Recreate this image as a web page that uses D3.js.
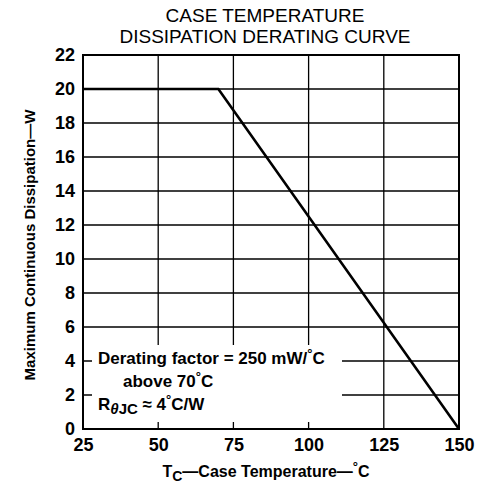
<!DOCTYPE html>
<html><head><meta charset="utf-8">
<script src="https://cdn.jsdelivr.net/npm/d3@7"></script>
<style>body{margin:0;background:#fff}svg{display:block}</style>
</head><body>
<script>
const xTicks = [25, 50, 75, 100, 125, 150];
const yTicks = [0, 2, 4, 6, 8, 10, 12, 14, 16, 18, 20, 22];
const curveTemp = [25, 70, 150];
const curvePower = [20, 20, 0];
const titleLines = ["CASE TEMPERATURE", "DISSIPATION DERATING CURVE"];

const W = 486, H = 489;
const svg = d3.select("body").append("svg").attr("width", W).attr("height", H);
const x = d3.scaleLinear().domain([25, 150]).range([83, 459]);
const y = d3.scaleLinear().domain([0, 22]).range([429, 55]);
const font = "'Liberation Sans', Arial, Helvetica, sans-serif";

// title
svg.append("g").selectAll("text").data(titleLines).join("text")
  .attr("x", 265).attr("y", (d, i) => 22 + i * 21)
  .attr("text-anchor", "middle").attr("font-family", font).attr("font-size", 19)
  .text(d => d);

// grid
const g = svg.append("g");
g.selectAll(".vg").data(xTicks.slice(1, -1)).join("line")
  .attr("x1", d => x(d)).attr("x2", d => x(d)).attr("y1", y(22)).attr("y2", y(0))
  .attr("stroke", "#000").attr("stroke-width", 1.3);
g.selectAll(".hg").data(yTicks.slice(1, -1)).join("line")
  .attr("x1", x(25)).attr("x2", x(150)).attr("y1", d => y(d)).attr("y2", d => y(d))
  .attr("stroke", "#000").attr("stroke-width", 1.3);

// white box behind annotation
g.append("rect").attr("x", x(25) + 9).attr("y", 345).attr("width", 250).attr("height", 77)
  .attr("fill", "#fff");

// border
g.append("rect").attr("x", x(25)).attr("y", y(22)).attr("width", x(150) - x(25)).attr("height", y(0) - y(22))
  .attr("fill", "none").attr("stroke", "#000").attr("stroke-width", 2);

// curve
const line = d3.line().x(d => x(d[0])).y(d => y(d[1]));
g.append("path").datum(curveTemp.map((t, i) => [t, curvePower[i]]))
  .attr("d", line).attr("fill", "none").attr("stroke", "#000").attr("stroke-width", 2.6)
  .attr("stroke-linejoin", "miter");

// axes labels
const xa = svg.append("g").attr("transform", `translate(0,${y(0)})`)
  .call(d3.axisBottom(x).tickValues(xTicks).tickSize(0).tickPadding(9));
xa.select(".domain").remove();
xa.selectAll("text").attr("font-family", font).attr("font-size", 18).attr("font-weight", "bold").attr("fill", "#000");

const ya = svg.append("g").attr("transform", `translate(${x(25)},0)`)
  .call(d3.axisLeft(y).tickValues(yTicks).tickSize(0).tickPadding(8));
ya.select(".domain").remove();
ya.selectAll("text").attr("font-family", font).attr("font-size", 18).attr("font-weight", "bold").attr("fill", "#000");

// axis titles
const xt = svg.append("text").attr("x", 266).attr("y", 477).attr("text-anchor", "middle")
  .attr("font-family", font).attr("font-size", 16).attr("font-weight", "bold");
xt.append("tspan").text("T");
xt.append("tspan").attr("font-size", 14).attr("dy", 4).text("C");
xt.append("tspan").attr("dy", -4).text("\u2014Case Temperature\u2014");
xt.append("tspan").attr("font-size", 13).attr("dy", -6).text("\u00b0");
xt.append("tspan").attr("dy", 6).text("C");

svg.append("text").attr("transform", "translate(35,245) rotate(-90)").attr("text-anchor", "middle")
  .attr("font-family", font).attr("font-size", 15).attr("font-weight", "bold")
  .text("Maximum Continuous Dissipation\u2014W");

// annotation
const ann = svg.append("g").attr("font-family", font).attr("font-size", 17).attr("font-weight", "bold");
const a1 = ann.append("text").attr("x", 98).attr("y", 364);
a1.append("tspan").text("Derating factor = 250 mW/");
a1.append("tspan").attr("font-size", 13).attr("dy", -6).text("\u00b0");
a1.append("tspan").attr("dy", 6).text("C");
const a2 = ann.append("text").attr("x", 123).attr("y", 387);
a2.append("tspan").text("above 70");
a2.append("tspan").attr("font-size", 13).attr("dy", -6).text("\u00b0");
a2.append("tspan").attr("dy", 6).text("C");
const a3 = ann.append("text").attr("x", 98).attr("y", 410);
a3.append("tspan").text("R");
a3.append("tspan").attr("font-size", 15).attr("dy", 4).attr("font-style", "italic").text("\u03b8");
a3.append("tspan").attr("font-size", 15).text("JC");
a3.append("tspan").attr("dy", -4).text(" \u2248 4");
a3.append("tspan").attr("font-size", 13).attr("dy", -6).text("\u00b0");
a3.append("tspan").attr("dy", 6).text("C/W");
</script>
</body></html>
